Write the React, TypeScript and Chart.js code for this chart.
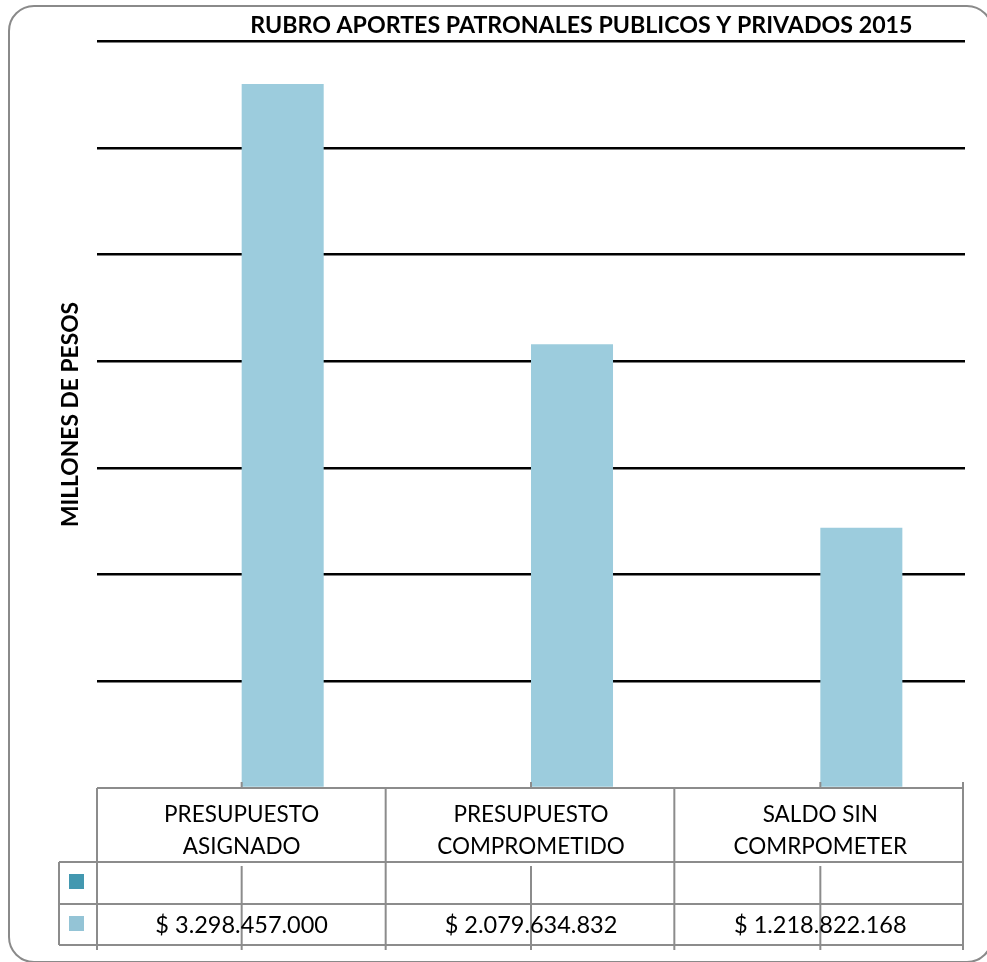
import React, { useEffect, useRef } from "react";
import { Chart, registerables } from "chart.js";

Chart.register(...registerables);

const TITLE = "RUBRO APORTES PATRONALES PUBLICOS Y PRIVADOS 2015";
const Y_TITLE = "MILLONES DE PESOS";
const CATEGORIES: string[][] = [
  ["PRESUPUESTO", "ASIGNADO"],
  ["PRESUPUESTO", "COMPROMETIDO"],
  ["SALDO SIN", "COMRPOMETER"],
];
const SERIES_EMPTY: (number | null)[] = [null, null, null];
const VALUES: number[] = [3298457000, 2079634832, 1218822168];
const Y_MIN = 0;
const Y_MAX = 3500000000;
const Y_STEP = 500000000;

const DARK = "#4398B0";
const LIGHT = "#9CCCDD";
const LIGHT_KEY = "#94C4D6";
const TABLE_LINE = "#8C8C8C";
const FONT = "Lato, 'Open Sans', sans-serif";

function formatPesos(v: number): string {
  const s = Math.round(v).toString();
  let out = "";
  for (let i = 0; i < s.length; i++) {
    const fromEnd = s.length - i;
    out += s[i];
    if (fromEnd > 1 && (fromEnd - 1) % 3 === 0) out += ".";
  }
  return "$ " + out;
}

const tablePlugin = {
  id: "excelTable",
  afterDraw(chart: any) {
    const ctx = chart.ctx as CanvasRenderingContext2D;
    const area = chart.chartArea;
    const xs = chart.scales.x;
    const left = area.left;
    const right = area.right - 2;
    const top = area.bottom;
    const headerBottom = top + 74;
    const row1Bottom = headerBottom + 42;
    const row2Bottom = row1Bottom + 41;
    const keyLeft = left - 38;
    const n = CATEGORIES.length;
    const catW = (right - left) / n;

    ctx.save();
    ctx.strokeStyle = TABLE_LINE;
    ctx.lineWidth = 2;
    const line = (x1: number, y1: number, x2: number, y2: number) => {
      ctx.beginPath();
      ctx.moveTo(x1, y1);
      ctx.lineTo(x2, y2);
      ctx.stroke();
    };
    // horizontal lines
    line(left, top, right, top);
    line(keyLeft, headerBottom, right, headerBottom);
    line(keyLeft, row1Bottom, right, row1Bottom);
    line(keyLeft, row2Bottom, right, row2Bottom);
    // key column left border
    line(keyLeft, headerBottom, keyLeft, row2Bottom);
    // category boundaries
    for (let i = 0; i <= n; i++) {
      const x = left + i * catW;
      line(x, top, x, row2Bottom + 5);
      if (i === n) line(x, top - 6, x, top);
    }
    // center tick lines
    for (let i = 0; i < n; i++) {
      const cx = xs.getPixelForValue(i);
      line(cx, top - 6, cx, top);
      line(cx, headerBottom + 4, cx, row2Bottom + 5);
    }

    // key squares
    ctx.fillStyle = DARK;
    ctx.fillRect(keyLeft + 10, headerBottom + 12, 15, 15);
    ctx.fillStyle = LIGHT_KEY;
    ctx.fillRect(keyLeft + 10, row1Bottom + 12, 15, 15);

    // header text
    ctx.fillStyle = "#000";
    ctx.textAlign = "center";
    ctx.textBaseline = "middle";
    for (let i = 0; i < n; i++) {
      const cx = xs.getPixelForValue(i);
      const lines = CATEGORIES[i];
      ctx.font = `22.5px ${FONT}`;
      ctx.fillText(lines[0], cx, top + 27);
      ctx.fillText(lines[1], cx, top + 59);
      ctx.font = `23.5px ${FONT}`;
      ctx.fillText(formatPesos(VALUES[i]), cx, row1Bottom + 21);
    }

    // chart title
    ctx.font = `bold 23.2px ${FONT}`;
    ctx.fillText(TITLE, left + (area.right - left) * 0.558, area.top - 15);

    // y-axis title
    ctx.save();
    ctx.translate(left - 26, (area.top + area.bottom) / 2);
    ctx.rotate(-Math.PI / 2);
    ctx.font = `bold 22.8px ${FONT}`;
    ctx.fillText(Y_TITLE, 0, 0);
    ctx.restore();

    ctx.restore();
  },
};

export default function App() {
  const ref = useRef<HTMLCanvasElement | null>(null);

  useEffect(() => {
    if (!ref.current) return;
    const chart = new Chart(ref.current, {
      type: "bar",
      data: {
        labels: CATEGORIES.map((c) => c.join(" ")),
        datasets: [
          {
            label: "Serie 1",
            data: SERIES_EMPTY,
            backgroundColor: DARK,
            categoryPercentage: 0.567,
            barPercentage: 1,
          },
          {
            label: "Serie 2",
            data: VALUES,
            backgroundColor: LIGHT,
            categoryPercentage: 0.567,
            barPercentage: 1,
          },
        ],
      },
      options: {
        responsive: false,
        animation: false,
        layout: { padding: { left: 97, right: 22, top: 41, bottom: 174 } },
        plugins: {
          legend: { display: false },
          title: { display: false },
          tooltip: { enabled: false },
        },
        scales: {
          x: {
            display: false,
          },
          y: {
            min: Y_MIN,
            max: Y_MAX,
            display: true,
            border: { display: false },
            ticks: { display: false, stepSize: Y_STEP },
            grid: {
              drawTicks: false,
              lineWidth: 2.4,
              color: (c: any) => (c.tick && c.tick.value === 0 ? "rgba(0,0,0,0)" : "#000000"),
            },
          },
        },
      },
      plugins: [tablePlugin],
    });
    return () => chart.destroy();
  }, []);

  return (
    <div
      style={{
        position: "fixed",
        left: 0,
        top: 0,
        width: 987,
        height: 962,
        overflow: "hidden",
        background: "#fff",
      }}
    >
      <div
        style={{
          position: "absolute",
          left: 8,
          top: 5,
          width: 985,
          height: 958,
          boxSizing: "border-box",
          border: "2px solid #8A8A8A",
          borderRadius: 26,
        }}
      />
      <canvas
        ref={ref}
        width={987}
        height={962}
        style={{ position: "absolute", left: 0, top: 0, width: 987, height: 962 }}
      />
    </div>
  );
}
